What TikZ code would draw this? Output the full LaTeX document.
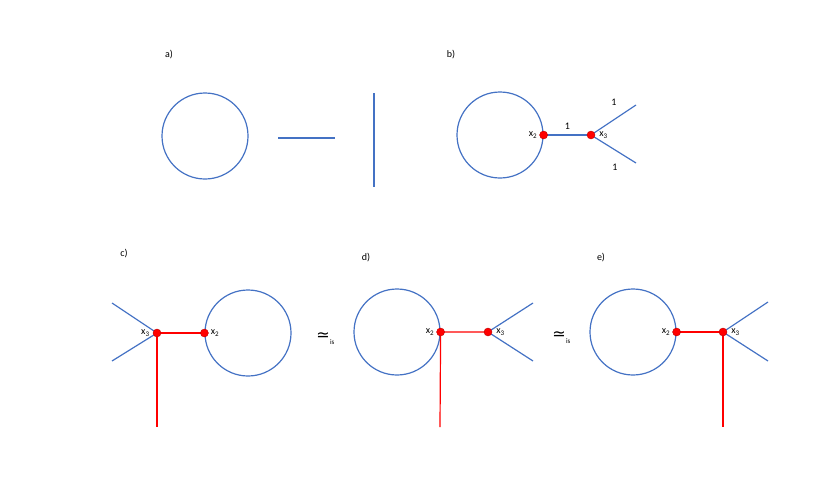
\documentclass[tikz,border=0pt]{standalone}
\usepackage{fontspec}
\setmainfont{Carlito}
\newfontfamily\symfont{DejaVu Sans}
\usetikzlibrary{positioning,calc}
\definecolor{edgeblue}{HTML}{4472C4}
\definecolor{vred}{HTML}{FF0000}

\begin{document}
\begin{tikzpicture}[x=1pt,y=-1pt,
  loopc/.style={circle,draw=edgeblue,line width=1.2pt,minimum size=86pt,inner sep=0pt},
  vert/.style={circle,fill=vred,draw=red!75!black,line width=.4pt,minimum size=8pt,inner sep=0pt},
  bl/.style={draw=edgeblue,line width=1.2pt},
  redline/.style={draw=vred,line width=1.2pt},
  lab/.style={font=\fontsize{10}{12}\selectfont,inner sep=1pt,text=black},
  iso/.style={font=\symfont\fontsize{16}{16}\selectfont,inner sep=0pt},
  isosub/.style={font=\fontsize{7}{7}\selectfont,inner sep=0pt}]
\useasboundingbox (0,0) rectangle (830,498);
% a)
\node[lab] (la) at (169,55) {a)};
\node[loopc] (ca) at (205,136) {};
\coordinate (ha1) at (278,138); \coordinate (ha2) at (335,138);
\coordinate (va1) at (374,93); \coordinate (va2) at (374,187);
\draw[bl] (ha1)--(ha2);
\draw[bl] (va1)--(va2);
% b)
\node[lab] (lb) at (451,55) {b)};
\node[loopc] (cb) at (500,135) {};
\coordinate (bu) at (636,105); \coordinate (bd) at (636,163);
\draw[bl] (cb.east)--(591,135) coordinate (bm) node[midway,above=4pt,lab]{1};
\draw[bl] (bm)--(bu); \draw[bl] (bm)--(bd);
\node[vert] (b2) at (cb.east) {};
\node[vert] (b3) at (bm) {};
\node[lab] at (614,102) {1};
\node[lab] at (615,167) {1};
\node[lab,left=1pt of b2] {x\textsubscript{2}};
\node[lab,right=3pt of b3] {x\textsubscript{3}};
% c)
\node[lab] (lc) at (124,254) {c)};
\node[loopc] (cc) at (248,333) {};
\coordinate (ct) at (157,333);
\coordinate (cu) at (112,303); \coordinate (cd) at (112,361); \coordinate (cr) at (157,427);
\draw[redline] (cc.west)--(ct)--(cr);
\draw[bl] (cu)--(ct)--(cd);
\node[vert] (c2) at (cc.west) {};
\node[vert] (c3) at (ct) {};
\node[lab,left=2pt of c3] {x\textsubscript{3}};
\node[lab,right=1pt of c2] {x\textsubscript{2}};
\node[iso] (s1) at (323,337) {≃};
\node[isosub,anchor=base west] at (s1.east |- 0,344) {is};
% d)
\node[lab] (ld) at (366,258) {d)};
\node[loopc] (cd0) at (397,332) {};
\coordinate (dt) at (488,332);
\coordinate (du) at (533,303); \coordinate (dd) at (533,361); \coordinate (dr) at (440,427);
\draw[bl] (du)--(dt)--(dd);
\draw[redline] (dt)--(cd0.east)--(dr);
\node[vert] (d2) at (cd0.east) {};
\node[vert] (d3) at (dt) {};
\node[lab,left=1pt of d2] {x\textsubscript{2}};
\node[lab,right=3pt of d3] {x\textsubscript{3}};
\node[iso] (s2) at (559,336) {≃};
\node[isosub,anchor=base west] at (s2.east |- 0,343) {is};
% e)
\node[lab] (le) at (601,258) {e)};
\node[loopc] (ce) at (633,332) {};
\coordinate (et) at (723,332);
\coordinate (eu) at (768,302); \coordinate (ed) at (768,361); \coordinate (er) at (723,427);
\draw[redline] (ce.east)--(et)--(er);
\draw[bl] (eu)--(et)--(ed);
\node[vert] (e2) at (ce.east) {};
\node[vert] (e3) at (et) {};
\node[lab,left=1pt of e2] {x\textsubscript{2}};
\node[lab,right=3pt of e3] {x\textsubscript{3}};
\end{tikzpicture}
\end{document}
